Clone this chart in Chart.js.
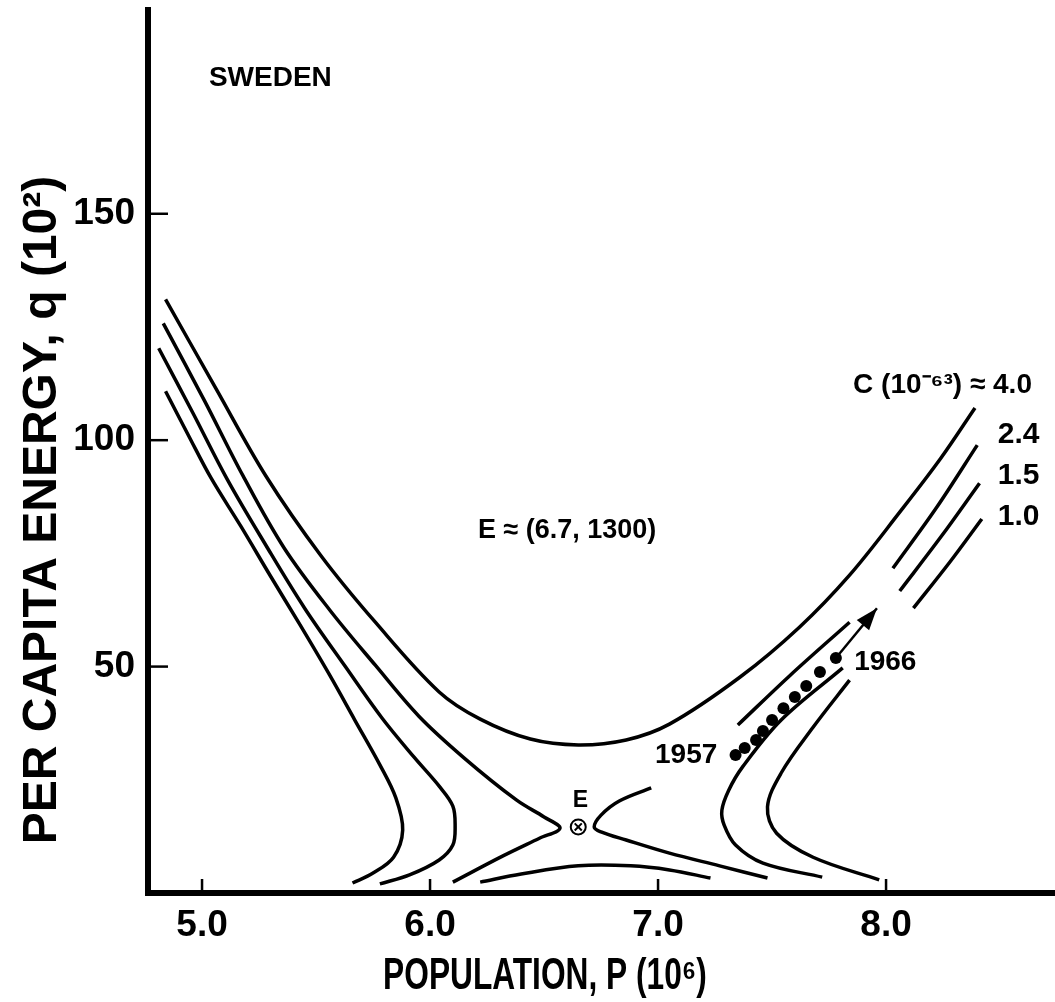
<!DOCTYPE html>
<html>
<head>
<meta charset="utf-8">
<title>Sweden</title>
<script src="https://cdn.jsdelivr.net/npm/chart.js@4.4.1/dist/chart.umd.min.js"></script>
<style>
  html, body { margin: 0; padding: 0; background: #fff; }
</style>
</head>
<body>
<canvas id="chart" width="1055" height="1002"></canvas>
<script>
// population P (10^6) against per capita energy q (10^2)
// null marks a break in the drawn curve

// C = 4.0 : upper U branch, then the small lower arch
const p40 = [4.84, 5.06, 5.28, 5.52, 5.76, 6.04, 6.22, 6.44, 6.65, 6.86, 7.05, 7.36, 7.62, 7.84, 8.06, 8.24, 8.39,
  null, 6.22, 6.40, 6.65, 6.88, 7.05, 7.23];
const q40 = [131.1, 111.5, 92.1, 74.6, 59.8, 44.4, 38.4, 34.0, 32.7, 33.8, 37.3, 47.7, 58.7, 70.2, 84.1, 96.0, 107.1,
  null, 2.4, 4.2, 6.0, 6.0, 5.1, 3.3];

// C = 2.4 : left branch, then right branch (broken by the 1957 label and the arrow)
const p24 = [4.83, 5.01, 5.18, 5.36, 5.56, 5.76, 5.95, 6.15, 6.38, 6.50, 6.57, 6.48, 6.32, 6.10,
  null, 7.48, 7.27, 7.05, 6.86, 6.75, 6.72, 6.75, 6.83, 6.97, null, 7.35, 7.58, 7.84, null, 8.03, 8.22, 8.40];
const q24 = [125.8, 108.8, 92.1, 76.2, 62.5, 50.3, 39.1, 29.8, 20.5, 16.8, 14.3, 12.1, 8.2, 2.4,
  null, 3.3, 6.0, 8.8, 11.7, 13.5, 14.6, 17.2, 20.3, 23.2, null, 37.1, 48.1, 59.8, null, 71.7, 85.0, 98.9];

// C = 1.5
const p15 = [4.81, 4.96, 5.11, 5.28, 5.45, 5.63, 5.79, 5.93, 6.04, 6.10, 6.11, 6.10, 6.04, 5.91, 5.78,
  null, 7.72, 7.46, 7.34, 7.29, 7.28, 7.31, 7.37, 7.54, 7.81, null, 8.06, 8.24, 8.41];
const q15 = [120.3, 106.0, 91.4, 76.8, 62.9, 49.9, 38.6, 30.0, 23.6, 19.2, 14.8, 10.6, 7.3, 4.0, 2.0,
  null, 3.5, 6.6, 10.6, 15.0, 18.3, 22.7, 27.8, 38.2, 49.7, null, 66.7, 78.6, 90.5];

// C = 1.0
const p10 = [4.84, 4.94, 5.04, 5.17, 5.30, 5.43, 5.56, 5.67, 5.78, 5.85, 5.88, 5.84, 5.75, 5.66,
  null, 7.97, 7.68, 7.52, 7.48, 7.54, 7.68, 7.84, null, 8.12, 8.28, 8.42];
const q10 = [110.8, 101.1, 91.6, 81.0, 70.0, 59.2, 48.1, 38.2, 28.3, 21.0, 13.9, 7.9, 4.4, 2.2,
  null, 2.9, 7.9, 13.2, 19.0, 26.5, 36.6, 47.0, null, 62.9, 73.1, 82.6];

// observed Sweden, 1957 - 1966
const years = [1957, 1958, 1959, 1960, 1961, 1962, 1963, 1964, 1965, 1966];
const pObs = [7.34, 7.38, 7.43, 7.46, 7.50, 7.55, 7.60, 7.65, 7.71, 7.78];
const qObs = [30.5, 32.0, 33.8, 35.8, 38.2, 40.8, 43.3, 45.7, 48.8, 51.9];

// trend arrow, from the 1966 point to its tip
const pArrow = [7.78, 7.96];
const qArrow = [51.9, 62.9];

// equilibrium point E
const pEq = [6.65];
const qEq = [14.6];

const xTicks = [5, 6, 7, 8];
const yTicks = [50, 100, 150];

const sans = "'Liberation Sans', Arial, sans-serif";

function pts(ps, qs) {
  return ps.map((p, i) => ({ x: p, y: qs[i] }));
}

function curve(ps, qs) {
  return {
    data: pts(ps, qs),
    showLine: true,
    borderColor: '#000',
    borderWidth: 3.5,
    pointRadius: 0,
    tension: 0.35,
    spanGaps: false,
    fill: false
  };
}

// text placed at data coordinates
const notes = [
  { text: 'SWEDEN', p: 5.03, q: 180.0, align: 'left', size: 28 },
  { text: 'E \u2248 (6.7, 1300)', p: 6.21, q: 80.1, align: 'left', size: 27 },
  { text: 'C (10\u207B\u2076\u00B3) \u2248 4.0', p: 8.64, q: 112.1, align: 'right', size: 28 },
  { text: '2.4', p: 8.49, q: 101.1, align: 'left', size: 30 },
  { text: '1.5', p: 8.49, q: 92.1, align: 'left', size: 30 },
  { text: '1.0', p: 8.49, q: 83.2, align: 'left', size: 30 },
  { text: '1957', p: 7.26, q: 30.5, align: 'right', size: 28 },
  { text: '1966', p: 7.86, q: 51.0, align: 'left', size: 28 },
  { text: 'E', p: 6.66, q: 20.5, align: 'center', size: 23 }
];

function noPadding(scale) {
  scale.paddingTop = 0;
  scale.paddingBottom = 0;
  scale.paddingLeft = 0;
  scale.paddingRight = 0;
}

const decor = {
  id: 'decor',
  afterDraw(chart) {
    const { ctx, scales: { x, y } } = chart;
    ctx.save();
    ctx.strokeStyle = '#000';
    ctx.fillStyle = '#000';

    // tick marks point into the plot
    ctx.lineWidth = 2.5;
    xTicks.forEach(v => {
      const px = x.getPixelForValue(v);
      ctx.beginPath();
      ctx.moveTo(px, y.bottom);
      ctx.lineTo(px, y.bottom - 14);
      ctx.stroke();
    });
    yTicks.forEach(v => {
      const py = y.getPixelForValue(v);
      ctx.beginPath();
      ctx.moveTo(x.left, py);
      ctx.lineTo(x.left + 20, py);
      ctx.stroke();
    });

    // arrow head
    const x0 = x.getPixelForValue(pArrow[0]), y0 = y.getPixelForValue(qArrow[0]);
    const x1 = x.getPixelForValue(pArrow[1]), y1 = y.getPixelForValue(qArrow[1]);
    const a = Math.atan2(y1 - y0, x1 - x0);
    const len = 22, half = 8;
    ctx.beginPath();
    ctx.moveTo(x1, y1);
    ctx.lineTo(x1 - len * Math.cos(a) + half * Math.sin(a), y1 - len * Math.sin(a) - half * Math.cos(a));
    ctx.lineTo(x1 - len * Math.cos(a) - half * Math.sin(a), y1 - len * Math.sin(a) + half * Math.cos(a));
    ctx.closePath();
    ctx.fill();

    // notes
    ctx.textBaseline = 'middle';
    notes.forEach(n => {
      ctx.font = `bold ${n.size}px ${sans}`;
      ctx.textAlign = n.align;
      ctx.fillText(n.text, x.getPixelForValue(n.p), y.getPixelForValue(n.q));
    });

    // axis titles (the x title is set condensed, as in the original)
    ctx.textAlign = 'center';
    ctx.save();
    ctx.translate(545, 977);
    ctx.scale(0.72, 1);
    ctx.font = `bold 44px ${sans}`;
    ctx.fillText('POPULATION, P (10\u2076)', 0, 0);
    ctx.restore();
    ctx.translate(43, 510);
    ctx.rotate(-Math.PI / 2);
    ctx.font = `bold 48px ${sans}`;
    ctx.fillText('PER CAPITA ENERGY, q (10\u00B2)', 0, 0);
    ctx.restore();
  }
};

new Chart(document.getElementById('chart'), {
  type: 'scatter',
  data: {
    datasets: [
      // E marker: crossed circle
      { data: pts(pEq, qEq), pointStyle: 'crossRot', pointRadius: 5, borderColor: '#000', borderWidth: 2 },
      { data: pts(pEq, qEq), pointStyle: 'circle', pointRadius: 7.5, backgroundColor: '#fff', borderColor: '#000', borderWidth: 2 },
      // yearly observations
      { data: pts(pObs, qObs), pointStyle: 'circle', pointRadius: 6, backgroundColor: '#000', borderColor: '#000', borderWidth: 0 },
      // trend arrow shaft
      { data: pts(pArrow, qArrow), showLine: true, borderColor: '#000', borderWidth: 2.5, pointRadius: 0 },
      curve(p40, q40),
      curve(p24, q24),
      curve(p15, q15),
      curve(p10, q10)
    ]
  },
  options: {
    responsive: false,
    animation: false,
    events: [],
    layout: { autoPadding: false, padding: { top: 10, right: 0, bottom: 0, left: 0 } },
    plugins: { legend: { display: false }, tooltip: { enabled: false } },
    scales: {
      x: {
        type: 'linear',
        min: 4.763,
        max: 8.741,
        afterFit(scale) { scale.height = 109; noPadding(scale); },
        grid: { display: false, drawTicks: false },
        border: { display: true, color: '#000', width: 6 },
        afterBuildTicks(scale) { scale.ticks = xTicks.map(v => ({ value: v })); },
        ticks: {
          color: '#000',
          padding: 11,
          font: { family: sans, size: 37, weight: 'bold' },
          callback: v => v.toFixed(1)
        }
      },
      y: {
        type: 'linear',
        min: 0,
        max: 195,
        afterFit(scale) { scale.width = 148; noPadding(scale); },
        grid: { display: false, drawTicks: false },
        border: { display: true, color: '#000', width: 6 },
        afterBuildTicks(scale) { scale.ticks = yTicks.map(v => ({ value: v })); },
        ticks: {
          color: '#000',
          padding: 13,
          font: { family: sans, size: 37, weight: 'bold' },
          callback: v => String(v)
        }
      }
    }
  },
  plugins: [decor]
});
</script>
</body>
</html>
